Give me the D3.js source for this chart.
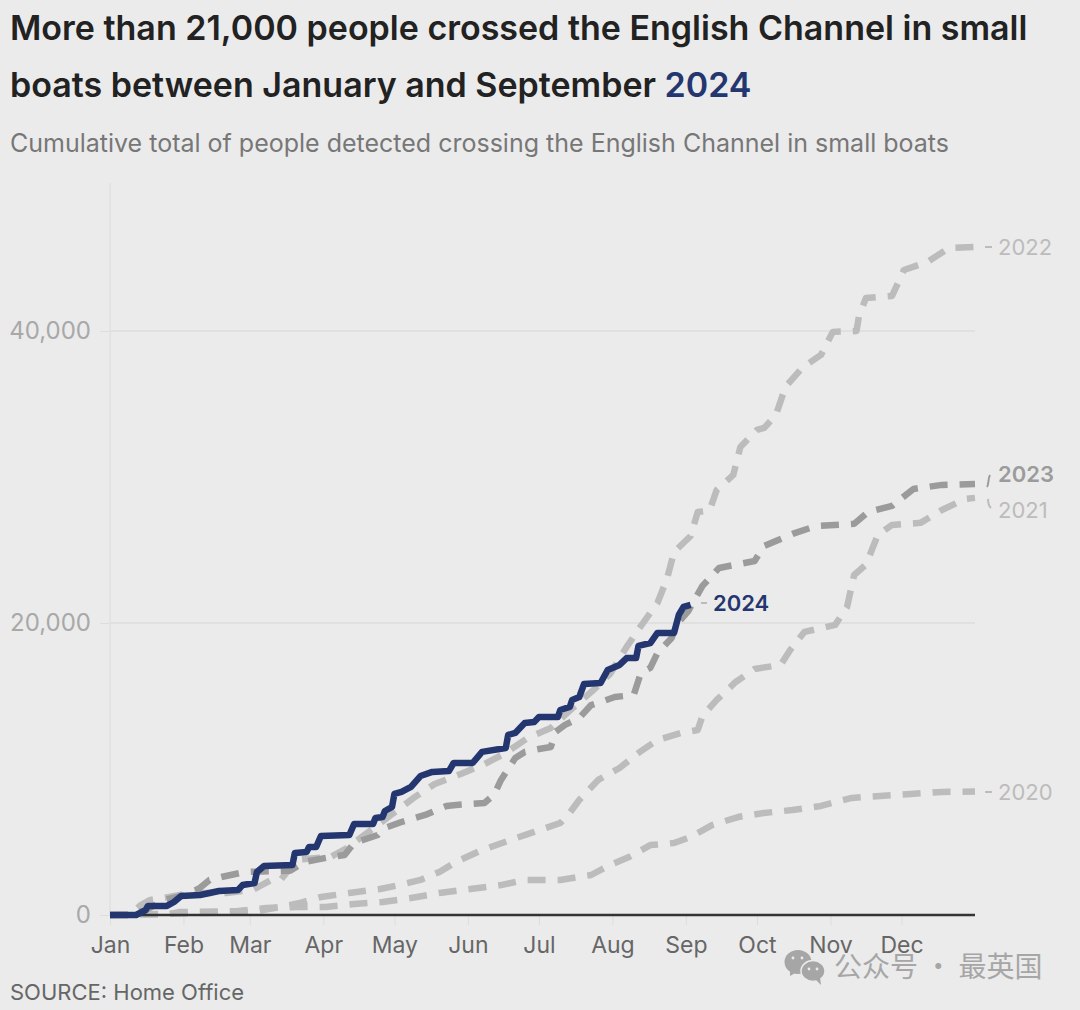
<!DOCTYPE html>
<html>
<head>
<meta charset="utf-8">
<script src="https://cdn.jsdelivr.net/npm/d3@7"></script>
<style>
  html, body { margin: 0; padding: 0; background: #ebebeb; }
  svg { display: block; }
  text { font-family: Inter, sans-serif; }
</style>
</head>
<body>
<div id="chart"></div>
<script>
const monthLabels = ['Jan','Feb','Mar','Apr','May','Jun','Jul','Aug','Sep','Oct','Nov','Dec'];
const monthStarts = [0,31,59,90,120,151,181,212,243,273,304,334];
const yTicks = [0,20000,40000];

// [day of year, cumulative people]
const y2020 = [[0,0],[25,70],[29,200],[54,270],[66,480],[79,550],[91,550],[103,750],[115,890],[127,1160],[139,1510],[152,1780],[165,2050],[175,2400],[190,2400],[203,2740],[211,3430],[219,3970],[228,4790],[238,4930],[245,5340],[254,6160],[265,6710],[276,6990],[288,7190],[300,7470],[313,8020],[325,8150],[338,8290],[351,8430],[365,8460]];
const y2021 = [[0,0],[59,200],[72,550],[80,820],[89,1230],[101,1510],[114,1780],[122,2050],[131,2400],[139,2950],[146,3630],[156,4380],[169,5140],[179,5690],[190,6300],[194,7000],[198,7880],[206,9250],[215,10070],[223,11100],[231,11990],[241,12470],[248,12670],[250,13630],[256,14730],[264,15960],[272,16850],[283,17130],[287,18150],[293,19390],[306,19870],[311,21100],[314,23290],[319,24000],[324,26030],[330,26720],[342,26860],[351,27740],[361,28500],[365,28570]];
const y2022 = [[0,0],[8,0],[13,680],[17,1030],[25,1230],[34,1510],[49,1510],[60,1710],[68,2400],[72,2400],[79,3800],[93,3970],[100,4590],[110,5800],[118,6780],[128,8010],[137,8970],[148,9660],[158,10340],[167,11100],[176,12100],[186,12810],[194,14000],[204,15410],[211,16510],[218,18360],[224,19790],[231,21370],[235,23010],[238,24860],[245,25960],[248,27600],[253,27700],[256,29110],[263,30140],[266,32060],[273,33220],[276,33360],[281,34250],[285,36170],[292,37470],[300,38360],[305,39940],[315,40000],[316,41000],[319,42260],[330,42400],[335,44180],[345,44730],[354,45690],[365,45750]];
const y2023 = [[0,0],[8,0],[15,340],[23,1030],[32,1370],[38,1860],[42,2400],[47,2600],[55,2880],[58,2950],[76,3030],[80,3430],[82,3630],[93,3970],[99,4110],[103,4930],[113,5480],[116,5960],[123,6370],[133,6850],[142,7470],[146,7540],[158,7670],[162,8220],[165,9250],[171,10750],[175,11170],[181,11370],[186,11510],[188,12540],[192,13020],[198,13490],[203,14380],[207,14590],[213,14930],[221,15070],[224,16580],[228,16920],[231,17950],[237,18980],[239,19870],[244,20820],[250,22540],[257,23770],[272,24250],[276,25280],[288,26100],[298,26650],[314,26790],[320,27610],[330,28020],[339,29180],[351,29460],[365,29520]];
const y2024 = [[0,0],[11,0],[15,340],[16,620],[24,620],[27,890],[30,1300],[38,1370],[46,1640],[54,1710],[56,2050],[61,2190],[62,2950],[65,3360],[77,3430],[78,4250],[83,4320],[84,4660],[87,4660],[89,5410],[101,5480],[103,6230],[111,6230],[112,6640],[115,6710],[116,7120],[119,7400],[120,8290],[123,8430],[127,8770],[131,9520],[136,9800],[143,9860],[145,10410],[153,10410],[157,11170],[167,11440],[168,12330],[171,12470],[175,13150],[179,13220],[181,13560],[189,13560],[190,14040],[194,14250],[195,14730],[198,14930],[200,15820],[207,15890],[210,16780],[215,17130],[218,17600],[222,17600],[223,18430],[228,18630],[231,19320],[238,19320],[240,20550],[242,21100],[245,21240]];

const width = 1080, height = 1010;
const navy = '#24366f', light = '#bcbcbc', dark = '#9b9b9b';

const svg = d3.select('#chart').append('svg')
    .attr('width', width)
    .attr('height', height);

svg.append('rect').attr('width', width).attr('height', height).attr('fill', '#ebebeb');

// headline
const title = svg.append('g')
    .attr('font-size', 34)
    .attr('font-weight', 600)
    .attr('fill', '#222');
title.append('text').attr('x', 10).attr('y', 40)
    .text('More than 21,000 people crossed the English Channel in small');
const line2 = title.append('text').attr('x', 10).attr('y', 97)
    .text('boats between January and September ');
line2.append('tspan').attr('fill', navy).text('2024');

svg.append('text')
    .attr('x', 10).attr('y', 152)
    .attr('font-size', 25)
    .attr('fill', '#777')
    .text('Cumulative total of people detected crossing the English Channel in small boats');

const x = d3.scaleLinear().domain([0, 365]).range([110, 975]);
const y = d3.scaleLinear().domain([0, 40000]).range([915, 331]);

// y axis with full width gridlines
const yAxis = svg.append('g')
    .attr('transform', 'translate(110,0)')
    .call(d3.axisLeft(y).tickValues(yTicks).tickSize(10).tickPadding(9).tickFormat(d3.format(',')));
yAxis.select('.domain').remove();
yAxis.selectAll('line').attr('stroke', '#dddddd');
yAxis.selectAll('text').attr('font-size', 24).attr('fill', '#a8a8a8').attr('font-family', 'Inter, sans-serif');

svg.append('g').selectAll('line')
    .data(yTicks.filter(d => d > 0))
    .join('line')
    .attr('x1', x(0)).attr('x2', x(365))
    .attr('y1', d => y(d)).attr('y2', d => y(d))
    .attr('stroke', '#dcdcdc')
    .attr('stroke-width', 1.5);

svg.append('line')
    .attr('x1', x(0)).attr('x2', x(0))
    .attr('y1', 183).attr('y2', y(0))
    .attr('stroke', '#e0e0e0')
    .attr('stroke-width', 1.5);

// x axis
const xAxis = svg.append('g')
    .attr('transform', `translate(0,${y(0)})`)
    .call(d3.axisBottom(x).tickValues(monthStarts).tickSize(10).tickPadding(12)
        .tickFormat((d, i) => monthLabels[i]));
xAxis.select('.domain').remove();
xAxis.selectAll('line').attr('stroke', '#dddddd');
xAxis.selectAll('text').attr('font-size', 23).attr('fill', '#666').attr('font-family', 'Inter, sans-serif');

// lines
const line = d3.line().x(d => x(d[0])).y(d => y(d[1])).curve(d3.curveLinear);

const series = [
    {name: '2020', data: y2020, color: light},
    {name: '2021', data: y2021, color: light},
    {name: '2022', data: y2022, color: light},
    {name: '2023', data: y2023, color: dark}
];

svg.append('g').selectAll('path')
    .data(series)
    .join('path')
    .attr('d', d => line(d.data))
    .attr('fill', 'none')
    .attr('stroke', d => d.color)
    .attr('stroke-width', 6.5)
    .attr('stroke-dasharray', '18 12')
    .attr('stroke-linejoin', 'round');

svg.append('line')
    .attr('x1', x(0)).attr('x2', x(365))
    .attr('y1', y(0)).attr('y2', y(0))
    .attr('stroke', '#333')
    .attr('stroke-width', 2.5);

svg.append('path')
    .attr('d', line(y2024))
    .attr('fill', 'none')
    .attr('stroke', navy)
    .attr('stroke-width', 6.5)
    .attr('stroke-linejoin', 'round');

// end labels and their small connectors
const labels = [
    {text: '2022', x: 998, y: 255, color: light, weight: 400},
    {text: '2023', x: 998, y: 482, color: dark, weight: 600},
    {text: '2021', x: 998, y: 518, color: light, weight: 400},
    {text: '2020', x: 998, y: 800, color: light, weight: 400},
    {text: '2024', x: 713, y: 611, color: navy, weight: 600}
];
svg.append('g').selectAll('text')
    .data(labels)
    .join('text')
    .attr('x', d => d.x)
    .attr('y', d => d.y)
    .attr('font-size', 22)
    .attr('font-weight', d => d.weight)
    .attr('fill', d => d.color)
    .text(d => d.text);

const connectors = [
    {d: 'M985,247H992', color: light},
    {d: 'M985,792H992', color: light},
    {d: 'M987,487C989,484 988,478 990,475', color: dark},
    {d: 'M988,499C988,503 989,506 991,508', color: light},
    {d: 'M701,603H707', color: light}
];
svg.append('g').selectAll('path')
    .data(connectors)
    .join('path')
    .attr('d', d => d.d)
    .attr('fill', 'none')
    .attr('stroke', d => d.color)
    .attr('stroke-width', 2);

svg.append('text')
    .attr('x', 10).attr('y', 1000)
    .attr('font-size', 22)
    .attr('fill', '#666')
    .text('SOURCE: Home Office');

// watermark
const wm = svg.append('g').attr('fill', '#a6a6a6');
wm.append('ellipse').attr('cx', 798).attr('cy', 962).attr('rx', 13.5).attr('ry', 12);
wm.append('path').attr('d', 'M790,970L790,976L797,972Z');
wm.append('ellipse').attr('cx', 813).attr('cy', 971).attr('rx', 12).attr('ry', 10.5).attr('stroke', '#ebebeb').attr('stroke-width', 1.5);
wm.append('path').attr('d', 'M816,980L821,985L820,977Z');
wm.selectAll('circle')
    .data([[793,958],[802,958],[809,969],[817,969]])
    .join('circle')
    .attr('cx', d => d[0]).attr('cy', d => d[1]).attr('r', 1.4)
    .attr('fill', '#ebebeb');
svg.append('text')
    .attr('x', 834).attr('y', 977)
    .attr('font-size', 28)
    .attr('fill', '#a6a6a6')
    .style('font-family', '"Noto Sans CJK SC", sans-serif')
    .text('公众号 · 最英国');
</script>
</body>
</html>
